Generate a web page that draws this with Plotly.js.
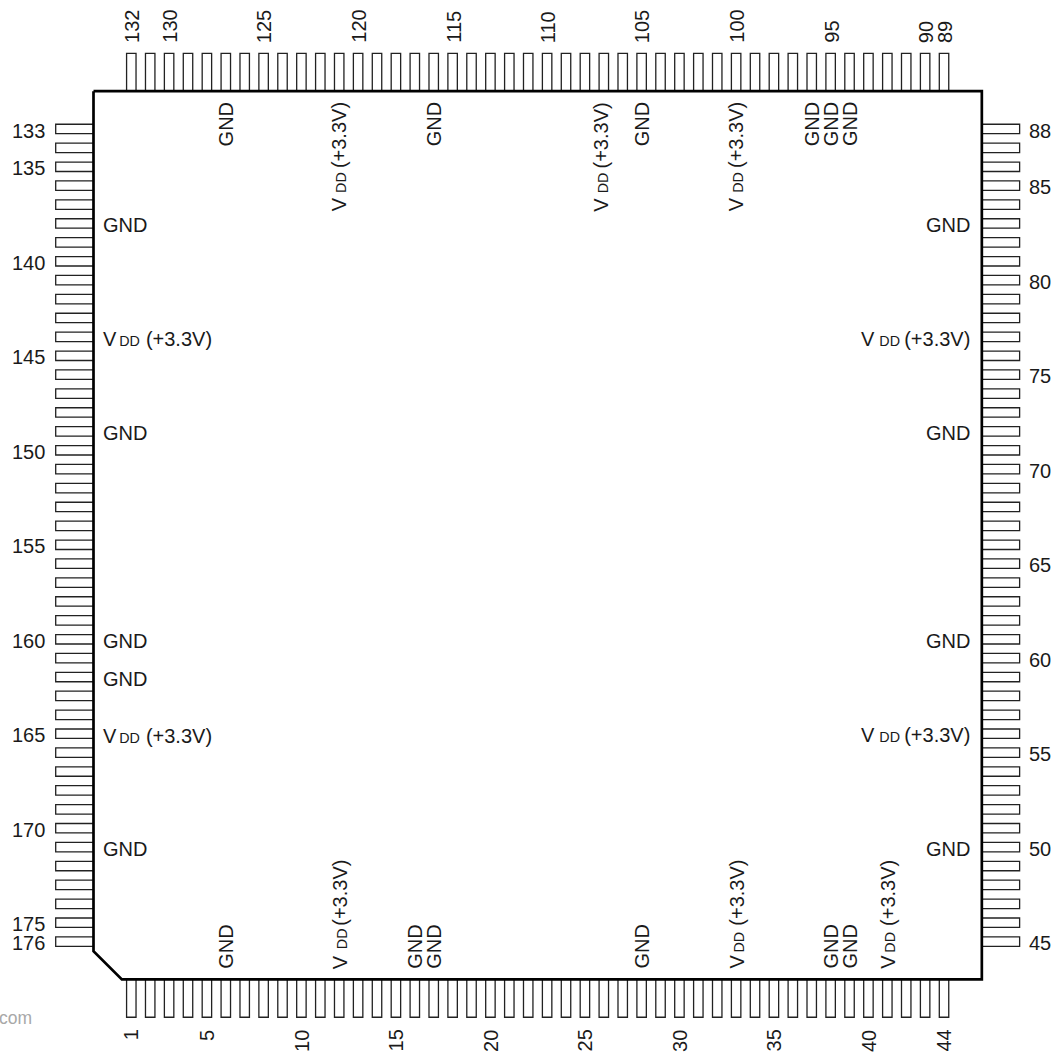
<!DOCTYPE html>
<html><head><meta charset="utf-8">
<script src="https://cdn.plot.ly/plotly-3.0.1.min.js"></script>
<style>html,body{margin:0;padding:0;background:#fff}</style></head>
<body><div id="chart" style="width:1058px;height:1052px"></div>
<script>
// pin numbers that carry a printed number, per side of the package
var leftNumbers = [133,135,140,145,150,155,160,165,170,175,176];
var rightNumbers = [88,85,80,75,70,65,60,55,50,45];
var topNumbers = [132,130,125,120,115,110,105,100,95,90,89];
var bottomNumbers = [1,5,10,15,20,25,30,35,40,44];
// pins carrying a power or ground name
var leftGnd = [138,149,160,162,171];
var leftVdd = [144,165];
var rightGnd = [83,72,61,50];
var rightVdd = [77,56];
var topGnd = [127,116,105,96,95,94];
var topVdd = [121,107,100];
var bottomGnd = [6,16,17,28,38,39];
var bottomVdd = [12,33,41];
var PINS_PER_SIDE = 44;
var FONT = 'Liberation Sans, Arial, sans-serif';
var SIZE = 20;
function sp(size){return '<span style="font-size:'+size+'px">\u00a0</span>';}
var DD = '<span style="font-size:14.3px">DD</span>';
var VDD_TIGHT = 'V'+sp(10)+DD+sp(22)+'(+3.3V)';
var VDD_WIDE = 'V'+sp(18)+DD+sp(15)+'(+3.3V)';
var VDD_WIDE_V = 'V'+sp(24)+DD+sp(10)+'(+3.3V)';

// slot = position of a pin along its side, 1..44
function slotBottom(n){return n;}
function slotRight(n){return 89-n;}
function slotTop(n){return 133-n;}
function slotLeft(n){return n-132;}

var px=[],py=[];
for(var s=1;s<=PINS_PER_SIDE;s++){
  var a=s-0.25,b=s+0.25;
  px.push(a,a,b,b,null); py.push(46,48,48,46,null);   // bottom
  px.push(a,a,b,b,null); py.push(-1,-3,-3,-1,null);   // top
  py.push(a,a,b,b,null); px.push(-1,-3,-3,-1,null);   // left
  py.push(a,a,b,b,null); px.push(46,48,48,46,null);   // right
}
var bodyX=[-1,46,46,0.5,-1,-1], bodyY=[-1,-1,46,46,44.5,-1];

var DOWN = 0.09; // horizontal text sits a little under the pin centre
var anns=[];
function note(text,x,y,xa,ya,angle){
  anns.push({text:text,x:x,y:y,xref:'x',yref:'y',xanchor:xa,yanchor:ya,textangle:angle||0,
    showarrow:false,borderpad:0,font:{family:FONT,size:SIZE,color:'#1a1a1a'}});
}
leftNumbers.forEach(function(n){note(String(n),-3.5,slotLeft(n)+DOWN,'right','middle');});
rightNumbers.forEach(function(n){note(String(n),48.45,slotRight(n)+DOWN,'left','middle');});
topNumbers.forEach(function(n){note(String(n),slotTop(n)+0.06,-3.5,'center','bottom',-90);});
bottomNumbers.forEach(function(n){note(String(n),n,48.6,'center','top',-90);});
leftGnd.forEach(function(n){note('GND',-0.53,slotLeft(n)+DOWN,'left','middle');});
leftVdd.forEach(function(n){note(VDD_TIGHT,-0.53,slotLeft(n)+DOWN,'left','middle');});
rightGnd.forEach(function(n){note('GND',45.45,slotRight(n)+DOWN,'right','middle');});
rightVdd.forEach(function(n){note(VDD_WIDE,45.45,slotRight(n)+DOWN,'right','middle');});
topGnd.forEach(function(n){note('GND',slotTop(n),-0.45,'center','top',-90);});
topVdd.forEach(function(n){note(VDD_WIDE,slotTop(n)-(n===107?0.17:0),-0.45,'center','top',-90);});
bottomGnd.forEach(function(n){note('GND',slotBottom(n),45.5,'center','bottom',-90);});
bottomVdd.forEach(function(n){note(n===12?VDD_WIDE_V:VDD_TIGHT,slotBottom(n),45.5,'center','bottom',-90);});
anns.push({text:'com',x:-4.2,y:48.05,xref:'x',yref:'y',xanchor:'right',yanchor:'middle',showarrow:false,
  borderpad:0,font:{family:FONT,size:17.5,color:'#a8a8a8'}});

var axis={visible:false,showgrid:false,zeroline:false,fixedrange:true};
Plotly.newPlot('chart',[
  {type:'scatter',mode:'lines',x:px,y:py,line:{color:'#222222',width:1.3,simplify:false},hoverinfo:'skip',connectgaps:false},
  {type:'scatter',mode:'lines',x:bodyX,y:bodyY,line:{color:'#000000',width:2.7,simplify:false},hoverinfo:'skip'}
],{
  width:1058,height:1052,margin:{l:0,r:0,t:0,b:0},showlegend:false,
  paper_bgcolor:'#ffffff',plot_bgcolor:'#ffffff',
  xaxis:Object.assign({range:[-5.947,50.03]},axis),
  yaxis:Object.assign({range:[49.84,-5.825]},axis),
  annotations:anns
},{staticPlot:true,displayModeBar:false});
</script></body></html>
